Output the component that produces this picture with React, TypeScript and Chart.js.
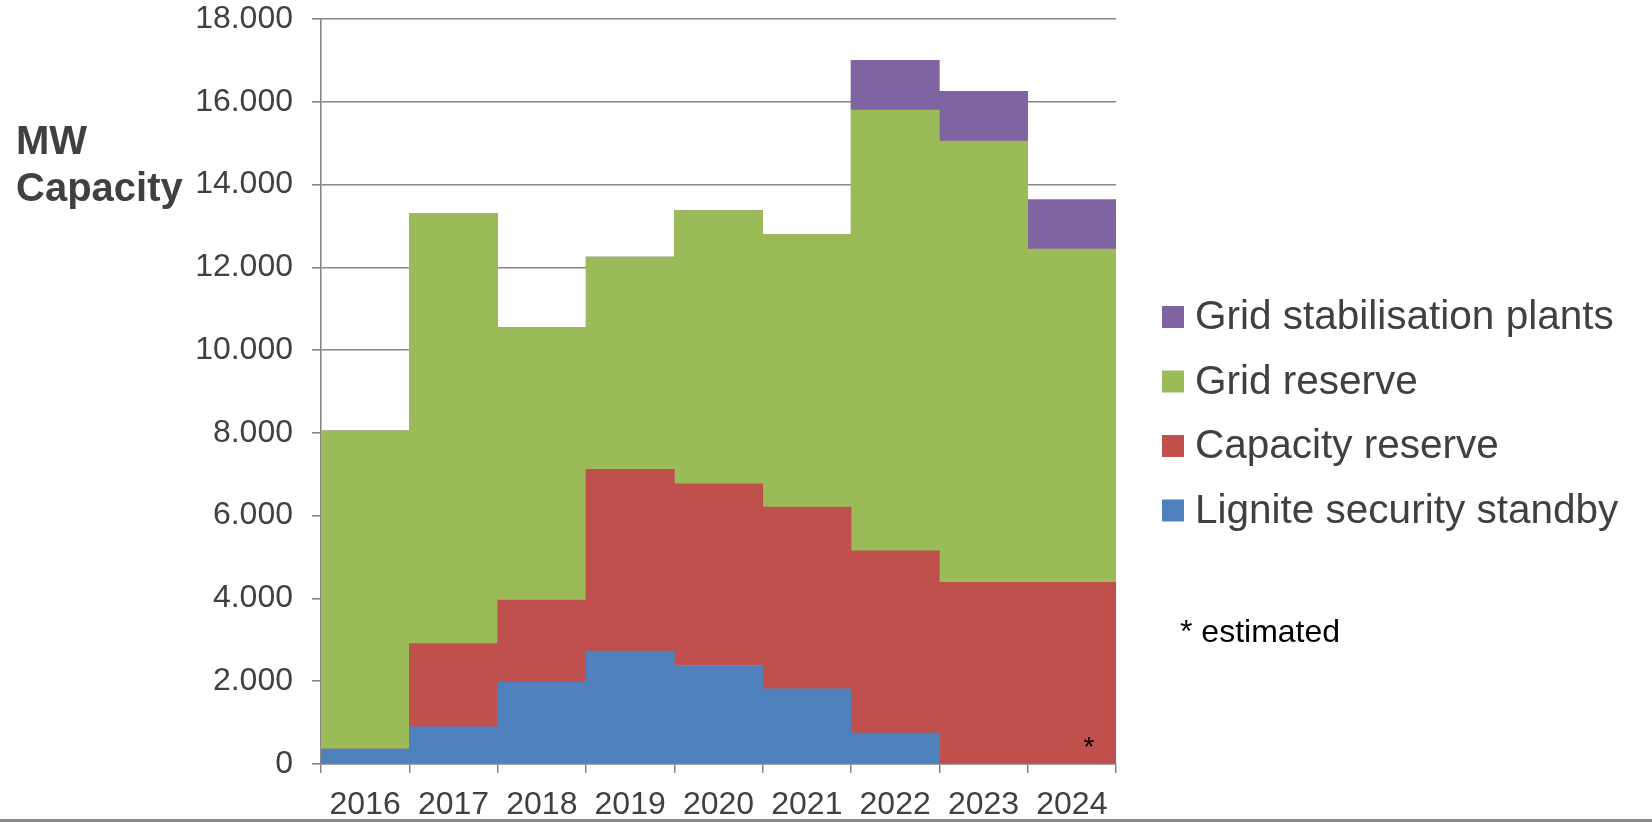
import React, { useEffect, useRef } from 'react';
import { Chart, registerables } from 'chart.js';

Chart.register(...registerables);

const years = ['2016', '2017', '2018', '2019', '2020', '2021', '2022', '2023', '2024'];
const ligniteStandby = [360, 900, 1975, 2730, 2380, 1815, 750, 0, 0];
const capacityReserve = [0, 2010, 1985, 4390, 4390, 4395, 4400, 4390, 4390];
const gridReserve = [7690, 10390, 6590, 5130, 6600, 6590, 10650, 10660, 8050];
const gridStabilisation = [0, 0, 0, 0, 0, 0, 1200, 1200, 1200];
const seriesLabels = ['Lignite security standby', 'Capacity reserve', 'Grid reserve', 'Grid stabilisation plants'];
const seriesColors = ['#4F81BD', '#C0504D', '#9BBB59', '#8064A2'];
const titleLines = ['MW', 'Capacity'];
const noteText = '* estimated';
const markerText = '*';

const FONT = '"Liberation Sans", Arial, sans-serif';
const TEXT = '#404040';
const AXIS = '#868686';

const overlayPlugin = {
  id: 'overlay',
  afterDraw(chart: any) {
    const ctx = chart.ctx;
    ctx.save();
    // Axis title
    ctx.fillStyle = TEXT;
    ctx.font = `bold 40px ${FONT}`;
    ctx.textAlign = 'left';
    ctx.textBaseline = 'alphabetic';
    ctx.fillText(titleLines[0], 16, 154);
    ctx.fillText(titleLines[1], 16, 201);

    // Legend (reverse order)
    const ds = chart.data.datasets;
    const rowY = [317, 381.5, 446, 510.5];
    ctx.font = `40.5px ${FONT}`;
    ctx.textBaseline = 'middle';
    for (let i = 0; i < ds.length; i++) {
      const d = ds[ds.length - 1 - i];
      const y = rowY[i];
      ctx.fillStyle = d.backgroundColor;
      ctx.fillRect(1162, y - 11, 22, 22);
      ctx.fillStyle = TEXT;
      ctx.fillText(d.label, 1195, y + 1);
    }

    // Notes
    ctx.fillStyle = '#000000';
    ctx.font = `32px ${FONT}`;
    ctx.textBaseline = 'alphabetic';
    ctx.fillText(noteText, 1180, 642);
    const xs = chart.scales.x;
    const ys = chart.scales.y;
    ctx.font = `28px ${FONT}`;
    ctx.textAlign = 'center';
    ctx.fillText(markerText, xs.getPixelForValue(8) + 17, ys.getPixelForValue(0) - 8);

    // bottom slide line
    ctx.fillStyle = '#8a8a8a';
    ctx.fillRect(0, 819, 1652, 3);
    ctx.restore();
  },
};

export default function App() {
  const ref = useRef<HTMLCanvasElement | null>(null);
  useEffect(() => {
    if (!ref.current) return;
    const values = [ligniteStandby, capacityReserve, gridReserve, gridStabilisation];
    const chart = new Chart(ref.current, {
      type: 'bar',
      data: {
        labels: years,
        datasets: values.map((v, i) => ({
          label: seriesLabels[i],
          data: v,
          backgroundColor: seriesColors[i],
          borderWidth: 0,
          barPercentage: 1,
          categoryPercentage: 1,
        })),
      },
      options: {
        responsive: false,
        animation: false,
        layout: { padding: { top: 19, right: 536, left: 0, bottom: 0 } },
        plugins: { legend: { display: false }, tooltip: { enabled: false } },
        scales: {
          x: {
            stacked: true,
            offset: true,
            grid: { offset: true, drawOnChartArea: false, drawTicks: true, tickLength: 9, color: AXIS, lineWidth: 1.5 },
            border: { display: true, color: AXIS, width: 1.5 },
            ticks: { color: TEXT, font: { family: FONT, size: 32 }, padding: 13, maxRotation: 0 },
            afterFit: (s: any) => { s.height = 58; s.paddingLeft = 0; s.paddingRight = 0; },
          },
          y: {
            stacked: true,
            min: 0,
            max: 18000,
            grid: { color: AXIS, lineWidth: 1.6, tickLength: 9, drawTicks: true },
            border: { display: true, color: AXIS, width: 1.6 },
            ticks: {
              stepSize: 2000,
              color: TEXT,
              font: { family: FONT, size: 32 },
              padding: 19,
              callback: (v: any) => (Number(v) === 0 ? '0' : `${Number(v) / 1000}.000`),
            },
            afterFit: (s: any) => { s.width = 321; s.paddingTop = 0; s.paddingBottom = 0; },
          },
        },
      },
      plugins: [overlayPlugin],
    });
    return () => chart.destroy();
  }, []);
  return (
    <div style={{ position: 'absolute', left: 0, top: 0, width: 1652, height: 822, background: '#fff' }}>
      <canvas ref={ref} width={1652} height={822} />
    </div>
  );
}
